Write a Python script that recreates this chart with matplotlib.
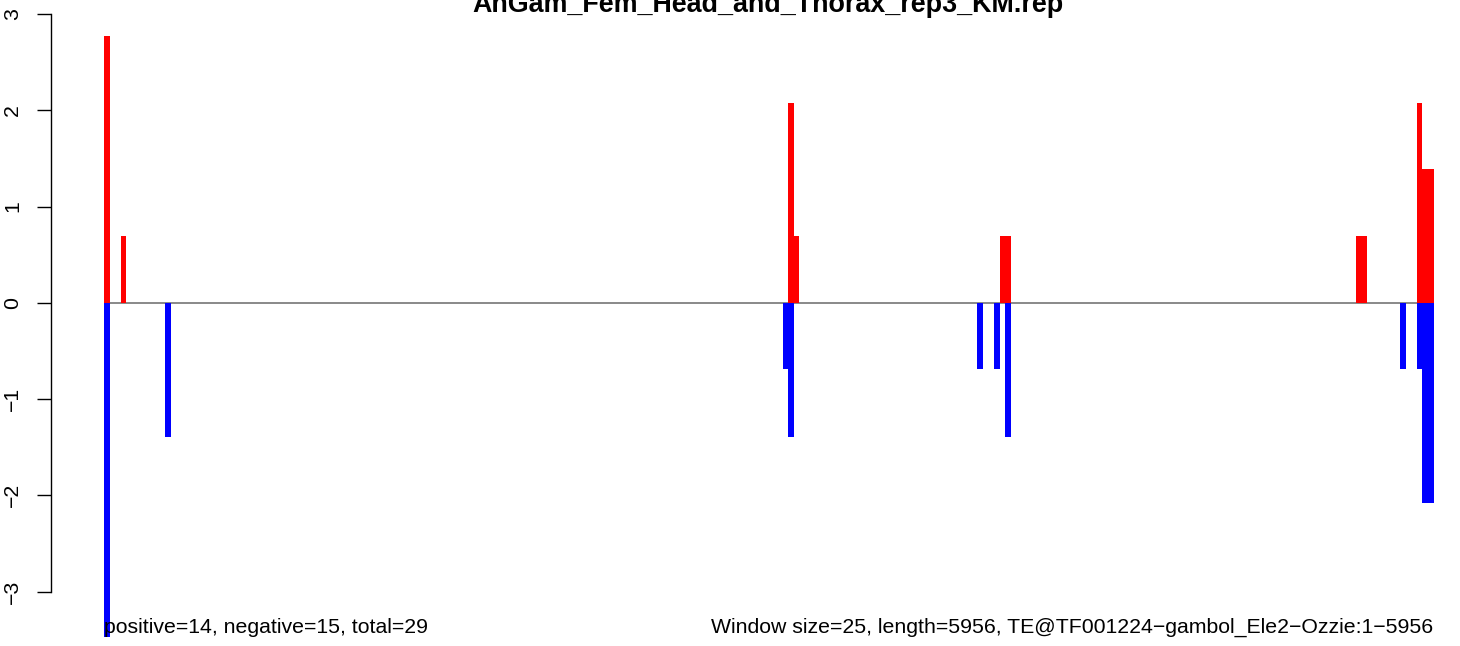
import numpy as np
import matplotlib
matplotlib.use("Agg")
import matplotlib.pyplot as plt

plt.rcParams['font.family'] = ['Liberation Sans', 'DejaVu Sans']

# windows of 25 bp over a 5956 bp element
n_windows = 239

# window index -> score (sense strand, red)
pos_idx = [0, 3, 123, 124, 161, 162, 225, 226, 236, 237, 238]
pos_val = [2.77, 0.69, 2.08, 0.69, 0.69, 0.69, 0.69, 0.69, 2.08, 1.39, 1.39]

# window index -> score (antisense strand, blue)
neg_idx = [0, 11, 122, 123, 157, 160, 162, 233, 236, 237, 238]
neg_val = [-3.47, -1.39, -0.69, -1.39, -0.69, -0.69, -1.39, -0.69, -0.69, -2.08, -2.08]

title = "AnGam_Fem_Head_and_Thorax_rep3_KM.rep"
left_note = "positive=14, negative=15, total=29"
right_note = "Window size=25, length=5956, TE@TF001224\u2212gambol_Ele2\u2212Ozzie:1\u22125956"

W, H = 1460, 646
fig = plt.figure(figsize=(W / 100, H / 100), dpi=100)

# plot region in pixels (R-style, runs past the right edge)
x0_px, x1_px = 51, 1485
ax = fig.add_axes([x0_px / W, 0, (x1_px - x0_px) / W, 1])

ppu_x = (1433.5 - 104) / n_windows
ax.set_xlim(-(104 - x0_px) / ppu_x, (x1_px - 104) / ppu_x)
ppu_y = (591.5 - 14) / 6
ax.set_ylim(-3 - (H - 591.5) / ppu_y, 3 + 14 / ppu_y)

ax.hlines(0, 0, n_windows, color='#808080', lw=1.3, zorder=1)
ax.bar(pos_idx, pos_val, width=1, align='edge', color='red', linewidth=0, zorder=2)
ax.bar(neg_idx, neg_val, width=1, align='edge', color='blue', linewidth=0, zorder=2)

for s in ['top', 'right', 'bottom']:
    ax.spines[s].set_visible(False)
ax.spines['left'].set_bounds(-3, 3)
ax.spines['left'].set_linewidth(1.0)
ax.set_xticks([])
ax.set_yticks(np.arange(-3, 4))
ax.set_yticklabels([str(v).replace('-', '\u2212') for v in range(-3, 4)])
ax.tick_params(axis='y', length=9.8, width=1.0, pad=11, labelsize=15.3)
for lab in ax.get_yticklabels():
    lab.set_rotation(90)
    lab.set_va('center')

fig.text(768 / W, 1 - 12 / H, title, ha='center', va='baseline',
         fontsize=19.4, fontweight='bold')
fig.text(104 / W, 1 - 633 / H, left_note, ha='left', va='baseline', fontsize=15.3)
fig.text(1433 / W, 1 - 633 / H, right_note, ha='right', va='baseline', fontsize=15.3)

fig.savefig("out.png", dpi=100)
